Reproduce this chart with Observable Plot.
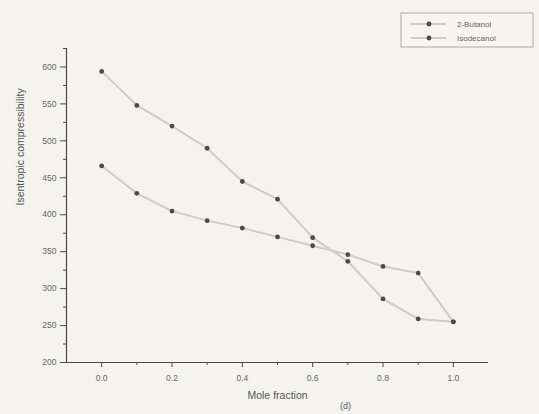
<!DOCTYPE html>
<html>
<head>
<meta charset="utf-8">
<script src="https://cdn.jsdelivr.net/npm/d3@7"></script>
<script src="https://cdn.jsdelivr.net/npm/@observablehq/plot@0.6"></script>
<style>
  html, body { margin: 0; padding: 0; background: #f4f3ee; }
  #chart { width: 539px; height: 414px; }
</style>
</head>
<body>
<div id="chart"></div>
<script>
const moleFraction = [0.0, 0.1, 0.2, 0.3, 0.4, 0.5, 0.6, 0.7, 0.8, 0.9, 1.0];
const butanol = [594, 548, 520, 490, 445, 421, 369, 337, 286, 259, 255];
const isodecanol = [466, 429, 405, 392, 382, 370, 358, 346, 330, 321, 255];
const seriesNames = ["2-Butanol", "Isodecanol"];
const xMajorTicks = [0.0, 0.2, 0.4, 0.6, 0.8, 1.0];
const xMinorTicks = [0.1, 0.3, 0.5, 0.7, 0.9];
const yMajorTicks = [200, 250, 300, 350, 400, 450, 500, 550, 600];
const yMinorTicks = [225, 275, 325, 375, 425, 475, 525, 575, 625];
const xDomain = [-0.1, 1.1];
const yDomain = [200, 625];

const rows = [];
[butanol, isodecanol].forEach((vals, i) => {
  vals.forEach((v, j) => rows.push({series: seriesNames[i], x: moleFraction[j], y: v}));
});

const ink = "#4a4a4a";
const lineColor = "#d2c9c9";

const plot = Plot.plot({
  width: 539,
  height: 414,
  marginLeft: 66,
  marginRight: 51,
  marginTop: 48,
  marginBottom: 52,
  style: {background: "#f4f3ee", fontFamily: "Liberation Sans, Arial, sans-serif", color: ink},
  x: {domain: xDomain},
  y: {domain: yDomain},
  marks: [
    Plot.axisX({ticks: xMajorTicks, tickSize: 5, tickFormat: d3.format(".1f"), tickPadding: 7, fontSize: 8.5, label: null, stroke: ink, fill: "#666"}),
    Plot.axisX({ticks: xMinorTicks, tickSize: 3, text: null, label: null, stroke: ink}),
    Plot.axisY({ticks: yMajorTicks, tickSize: 6, tickPadding: 4, fontSize: 8.5, label: null, stroke: ink, fill: "#666"}),
    Plot.axisY({ticks: yMinorTicks, tickSize: 3, text: null, label: null, stroke: ink}),
    Plot.ruleX([xDomain[0]], {stroke: ink, strokeWidth: 1.2}),
    Plot.ruleY([yDomain[0]], {stroke: ink, strokeWidth: 1.2}),
    Plot.line(rows, {x: "x", y: "y", z: "series", stroke: lineColor, strokeWidth: 2}),
    Plot.dot(rows, {x: "x", y: "y", fill: ink, r: 2.4, stroke: "none"}),
    Plot.text(["Isentropic compressibility"], {frameAnchor: "left", rotate: -90, dx: -46, fontSize: 10.5, fill: "#555"}),
    Plot.text(["Mole fraction"], {frameAnchor: "bottom", dy: 36, fontSize: 10.5, fill: "#555"}),
    Plot.text(["(d)"], {frameAnchor: "bottom", dx: 68, dy: 46, fontSize: 9, fill: "#555"})
  ]
});

document.getElementById("chart").appendChild(plot);

// Legend (top-right box)
const svg = d3.select(plot);
const lg = svg.append("g").attr("transform", "translate(401,13)");
lg.append("rect").attr("width", 132).attr("height", 34)
  .attr("fill", "#f6f5f1").attr("stroke", "#aaa").attr("stroke-width", 1);
seriesNames.forEach((name, i) => {
  const cy = 11 + i * 14;
  lg.append("line").attr("x1", 10).attr("x2", 45).attr("y1", cy).attr("y2", cy)
    .attr("stroke", lineColor).attr("stroke-width", 2);
  lg.append("circle").attr("cx", 28).attr("cy", cy).attr("r", 2.4).attr("fill", ink);
  lg.append("text").attr("x", 56).attr("y", cy).attr("dy", "0.35em")
    .attr("text-anchor", "start")
    .attr("font-size", 8).attr("fill", "#666").attr("font-family", "Liberation Sans, Arial, sans-serif")
    .text(name);
});
</script>
</body>
</html>
